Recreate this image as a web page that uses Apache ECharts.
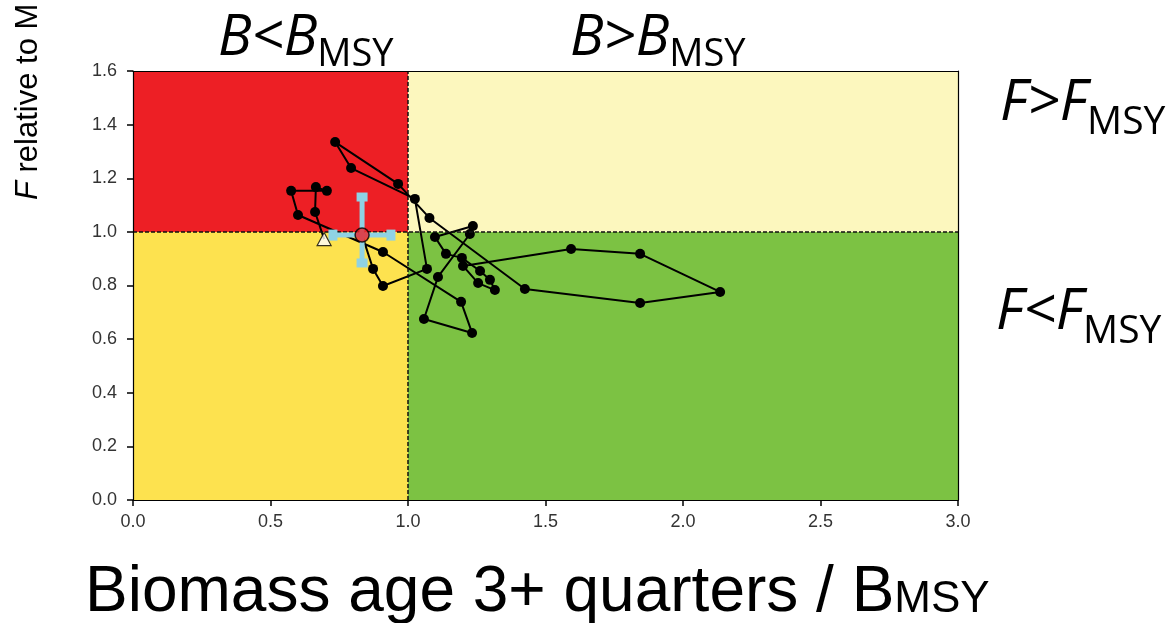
<!DOCTYPE html>
<html>
<head>
<meta charset="utf-8">
<script src="https://cdn.jsdelivr.net/npm/echarts@6/dist/echarts.min.js"></script>
<style>
  html,body{margin:0;padding:0;background:#fff}
  #chart{width:1169px;height:623px}
</style>
</head>
<body>
<div id="chart"></div>
<script>
// trajectory: first point = open triangle, last point = red circle (with CI bars)
const biomass = [0.695, 0.662, 0.665, 0.705, 0.575, 0.600, 0.909, 1.193, 1.233, 1.058, 1.109, 1.225,
  1.236, 1.098, 1.138, 1.196, 1.262, 1.298, 1.316, 1.255, 1.200, 1.593, 1.844, 2.135, 1.844, 1.425,
  1.078, 0.964, 0.735, 0.793, 1.025, 1.069, 0.909, 0.873, 0.833];
const fishing = [0.973, 1.074, 1.167, 1.153, 1.153, 1.063, 0.925, 0.739, 0.623, 0.675, 0.832, 0.992,
  1.022, 0.981, 0.918, 0.903, 0.854, 0.821, 0.783, 0.809, 0.873, 0.936, 0.918, 0.776, 0.735, 0.787,
  1.052, 1.179, 1.335, 1.238, 1.123, 0.862, 0.798, 0.862, 0.988];
// confidence interval of the last year
const biomassCI = [0.727, 0.938];
const fishingCI = [0.884, 1.13];
// reference lines
const bMsy = 1.0;
const fMsy = 1.0;
// axes
const xMin = 0, xMax = 3, xStep = 0.5;
const yMin = 0, yMax = 1.6, yStep = 0.2;

const last = biomass.length - 1;
const pathData = biomass.map(function (b, i) {
  const item = { value: [b, fishing[i]] };
  if (i === 0 || i === last) item.symbol = 'none';
  return item;
});

// text helpers
const ctx = document.createElement('canvas').getContext('2d');
function textW(str, font) { ctx.font = font; return ctx.measureText(str).width; }
function subLabel(x, base, main, sub, mainSize, subSize, drop, family, italic) {
  const mf = (italic ? 'italic ' : '') + mainSize + 'px ' + family;
  const sf = subSize + 'px ' + family;
  const w = textW(main, mf);
  return [
    { type: 'text', x: x, y: base - mainSize * 0.32,
      style: { text: main, font: mf, fill: '#000', verticalAlign: 'middle' } },
    { type: 'text', x: x + w, y: base + drop - subSize * 0.32,
      style: { text: sub, font: sf, fill: '#000', verticalAlign: 'middle' } }
  ];
}

const calibri = '"Open Sans", sans-serif';
const arial = '"Liberation Sans", Arial, sans-serif';

let graphics = [];
graphics = graphics.concat(subLabel(218, 57, 'B<B', 'MSY', 56, 38, 10, calibri, true));
graphics = graphics.concat(subLabel(570, 57, 'B>B', 'MSY', 56, 38, 10, calibri, true));
graphics = graphics.concat(subLabel(1000, 122, 'F>F', 'MSY', 57, 39, 13, calibri, true));
graphics = graphics.concat(subLabel(996, 331, 'F<F', 'MSY', 57, 39, 13, calibri, true));
graphics = graphics.concat(subLabel(85, 614, 'Biomass age 3+ quarters / B', 'MSY', 64, 44, 0, arial, false));
const yLabelFont = 'italic 31px ' + arial;
const fW = textW('F', yLabelFont);
graphics.push({
  type: 'text', x: 28, y: 200, rotation: Math.PI / 2,
  style: { text: 'F', font: yLabelFont, fill: '#000', verticalAlign: 'middle' }
});
graphics.push({
  type: 'text', x: 28, y: 200 - fW, rotation: Math.PI / 2,
  style: { text: ' relative to M', font: '31px ' + arial, fill: '#000', verticalAlign: 'middle' }
});

const chart = echarts.init(document.getElementById('chart'));
const axisText = { color: '#333', fontSize: 18, fontFamily: arial };
const blue = '#8FD2E4';

const option = {
  animation: false,
  grid: { left: 133, right: 211, top: 71, bottom: 123 },
  xAxis: [{
    type: 'value', min: xMin, max: xMax, interval: xStep, z: 10,
    axisLine: { show: true, onZero: false, lineStyle: { color: '#000', width: 1.2 } },
    axisTick: { show: true, length: 6, lineStyle: { color: '#000', width: 1.5 } },
    axisLabel: Object.assign({ margin: 13, formatter: function (v) { return v.toFixed(1); } }, axisText),
    splitLine: { show: false }
  }, {
    type: 'value', position: 'top', min: xMin, max: xMax, z: 10,
    axisLine: { show: true, onZero: false, lineStyle: { color: '#000', width: 1.2 } },
    axisTick: { show: false }, axisLabel: { show: false }, splitLine: { show: false }
  }],
  yAxis: [{
    type: 'value', min: yMin, max: yMax, interval: yStep, z: 10,
    axisLine: { show: true, onZero: false, lineStyle: { color: '#000', width: 1.2 } },
    axisTick: { show: true, length: 6, lineStyle: { color: '#000', width: 1.5 } },
    axisLabel: Object.assign({ margin: 16, formatter: function (v) { return v.toFixed(1); } }, axisText),
    splitLine: { show: false }
  }, {
    type: 'value', position: 'right', min: yMin, max: yMax, z: 10,
    axisLine: { show: true, onZero: false, lineStyle: { color: '#000', width: 1.2 } },
    axisTick: { show: false }, axisLabel: { show: false }, splitLine: { show: false }
  }],
  graphic: graphics,
  series: [
    {
      // status zones and MSY reference lines
      type: 'line', data: [], silent: true,
      markArea: {
        silent: true,
        data: [
          [{ xAxis: xMin, yAxis: fMsy, itemStyle: { color: '#ED1F25' } }, { xAxis: bMsy, yAxis: yMax }],
          [{ xAxis: bMsy, yAxis: fMsy, itemStyle: { color: '#FCF7BE' } }, { xAxis: xMax, yAxis: yMax }],
          [{ xAxis: xMin, yAxis: yMin, itemStyle: { color: '#FDE24F' } }, { xAxis: bMsy, yAxis: fMsy }],
          [{ xAxis: bMsy, yAxis: yMin, itemStyle: { color: '#7CC243' } }, { xAxis: xMax, yAxis: fMsy }]
        ]
      },
      markLine: {
        silent: true, symbol: 'none', label: { show: false },
        lineStyle: { color: '#111', type: [4, 2], width: 1.5 },
        data: [{ xAxis: bMsy }, { yAxis: fMsy }]
      }
    },
    {
      type: 'line', data: pathData, z: 4,
      symbol: 'circle', symbolSize: 10,
      itemStyle: { color: '#000' },
      lineStyle: { color: '#000', width: 2 }
    },
    {
      type: 'line', z: 5, symbol: 'rect', symbolSize: [9, 11],
      data: [[biomassCI[0], fishing[last]], [biomassCI[1], fishing[last]]],
      itemStyle: { color: blue }, lineStyle: { color: blue, width: 5 }
    },
    {
      type: 'line', z: 5, symbol: 'rect', symbolSize: [11, 9],
      data: [[biomass[last], fishingCI[0]], [biomass[last], fishingCI[1]]],
      itemStyle: { color: blue }, lineStyle: { color: blue, width: 5 }
    },
    {
      type: 'scatter', z: 6, symbol: 'triangle', symbolSize: [14, 13],
      data: [[biomass[0], fishing[0]]],
      itemStyle: { color: '#fff', borderColor: '#000', borderWidth: 1.2 }
    },
    {
      type: 'scatter', z: 7, symbol: 'circle', symbolSize: 14,
      data: [[biomass[last], fishing[last]]],
      itemStyle: { color: '#E8222A', borderColor: '#000', borderWidth: 1.5 }
    }
  ]
};
chart.setOption(option);
</script>
</body>
</html>
